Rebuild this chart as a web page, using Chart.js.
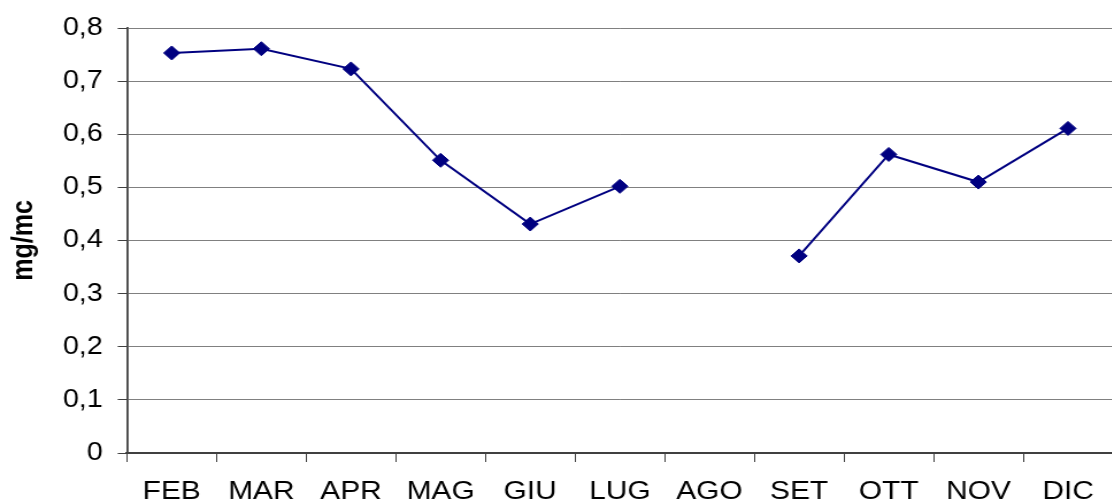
<!DOCTYPE html>
<html>
<head>
<meta charset="utf-8">
<script src="https://cdn.jsdelivr.net/npm/chart.js@4"></script>
<style>
  html, body { margin: 0; padding: 0; overflow: hidden; background: #fff; }
  /* the original picture is a little wider than tall, so stretch the canvas */
  #chart { display: block; width: 1122px !important; height: 502px !important; }
</style>
</head>
<body>
<canvas id="chart" width="976" height="502"></canvas>
<script>
var ctx = document.getElementById('chart').getContext('2d');

// mesi e valori (mg/mc), AGO senza dato
const months = ['FEB', 'MAR', 'APR', 'MAG', 'GIU', 'LUG', 'AGO', 'SET', 'OTT', 'NOV', 'DIC'];
const values = [0.753, 0.761, 0.723, 0.551, 0.431, 0.502, null, 0.371, 0.562, 0.510, 0.611];
const yTicks = [0, 0.1, 0.2, 0.3, 0.4, 0.5, 0.6, 0.7, 0.8];

const fam = '"Liberation Sans", Arial, sans-serif';

const config = {
  type: 'line',
  data: {
    labels: months,
    datasets: [{
      label: 'mg/mc',
      data: values,
      borderColor: '#000080',
      backgroundColor: '#000080',
      borderWidth: 2,
      pointStyle: 'rectRot',
      pointRadius: 7,
      pointHoverRadius: 7,
      pointBorderWidth: 1,
      spanGaps: false,
      tension: 0,
    }],
  },
  options: {
    responsive: false,
    animation: false,
    devicePixelRatio: 1,
    layout: { padding: { top: 26, right: 0, left: 0, bottom: 0 } },
    plugins: {
      legend: { display: false },
      tooltip: { enabled: false },
    },
    scales: {
      x: {
        offset: true,
        grid: {
          offset: true,
          drawOnChartArea: false,
          drawTicks: true,
          tickLength: 9,
          color: '#404040',
        },
        border: { color: '#404040', width: 2 },
        ticks: {
          font: { family: fam, size: 26 },
          color: '#000',
          padding: 14,
          maxRotation: 0,
          autoSkip: false,
        },
        afterFit: (scale) => { scale.height = 49; },
      },
      y: {
        min: 0,
        max: 0.8,
        afterBuildTicks: (scale) => {
          scale.ticks = yTicks.map((v) => ({ value: v }));
        },
        grid: {
          color: '#808080',
          lineWidth: 1,
          tickLength: 8,
          tickColor: '#404040',
        },
        border: { color: '#404040', width: 1.8 },
        ticks: {
          font: { family: fam, size: 25 },
          color: '#000',
          padding: 13,
          callback: (val) => (val === 0 ? '0' : val.toFixed(1).replace('.', ',')),
        },
        title: {
          display: true,
          text: 'mg/mc',
          color: '#000',
          font: { family: fam, size: 25, weight: 'bold' },
          padding: { top: 6, bottom: 0 },
        },
        afterFit: (scale) => { scale.width = 110.4; },
      },
    },
  },
};

new Chart(ctx, config);
</script>
</body>
</html>
